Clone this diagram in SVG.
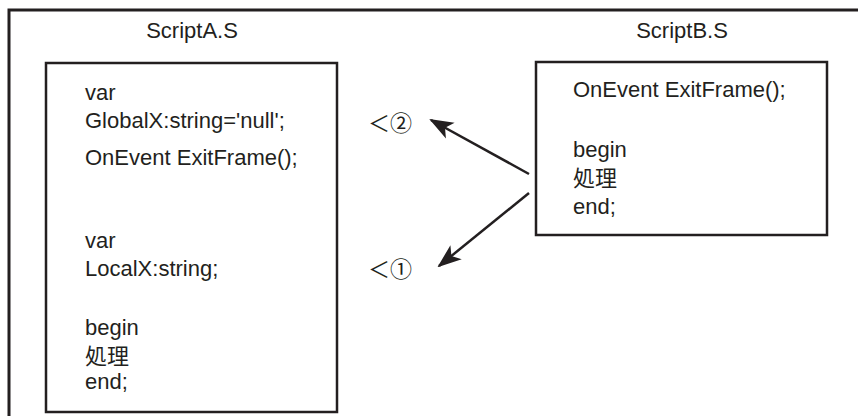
<svg xmlns="http://www.w3.org/2000/svg" width="858" height="416" viewBox="0 0 858 416">
<style>
.frame{fill:none;stroke:#231f20;stroke-width:3}
.box{fill:#fff;stroke:#231f20;stroke-width:2.5}
.t{font-family:"Liberation Sans","Noto Sans CJK JP",sans-serif;font-size:22px;fill:#231f20}
.j{font-family:"Noto Sans CJK JP",sans-serif;font-size:22px;fill:#231f20}
.conn{stroke:#231f20;stroke-width:2.5;fill:none;marker-end:url(#ah)}
</style>
<defs>
<marker id="ah" viewBox="0 0 24 20" refX="22" refY="10" markerWidth="24" markerHeight="20" markerUnits="userSpaceOnUse" orient="auto">
<path d="M0,1 L24,10 L0,19 L6,10 z" fill="#231f20"/>
</marker>
</defs>
<path class="frame" d="M9,416 V10 H858"/>
<text class="t" x="192" y="38" text-anchor="middle">ScriptA.S</text>
<text class="t" x="682" y="38" text-anchor="middle">ScriptB.S</text>
<g id="scriptA">
<rect class="box" x="46" y="63" width="291" height="349"/>
<text class="t" x="85" y="100">var</text>
<text class="t" x="85" y="128">GlobalX:string='null';</text>
<text class="t" x="85" y="165">OnEvent ExitFrame();</text>
<text class="t" x="85" y="248">var</text>
<text class="t" x="85" y="276">LocalX:string;</text>
<text class="t" x="85" y="335">begin</text>
<text class="j" x="85" y="364">処理</text>
<text class="t" x="85" y="389">end;</text>
</g>
<g id="scriptB">
<rect class="box" x="536" y="62" width="291" height="173"/>
<text class="t" x="573" y="97">OnEvent ExitFrame();</text>
<text class="t" x="573" y="157">begin</text>
<text class="j" x="573" y="186">処理</text>
<text class="t" x="573" y="214">end;</text>
</g>
<g id="label2"><text class="j" x="368" y="131">＜②</text></g>
<g id="label1"><text class="j" x="368" y="277">＜①</text></g>
<g id="connectors">
<line class="conn" x1="529" y1="174" x2="431" y2="120"/>
<line class="conn" x1="529" y1="193" x2="439" y2="266"/>
</g>
</svg>
